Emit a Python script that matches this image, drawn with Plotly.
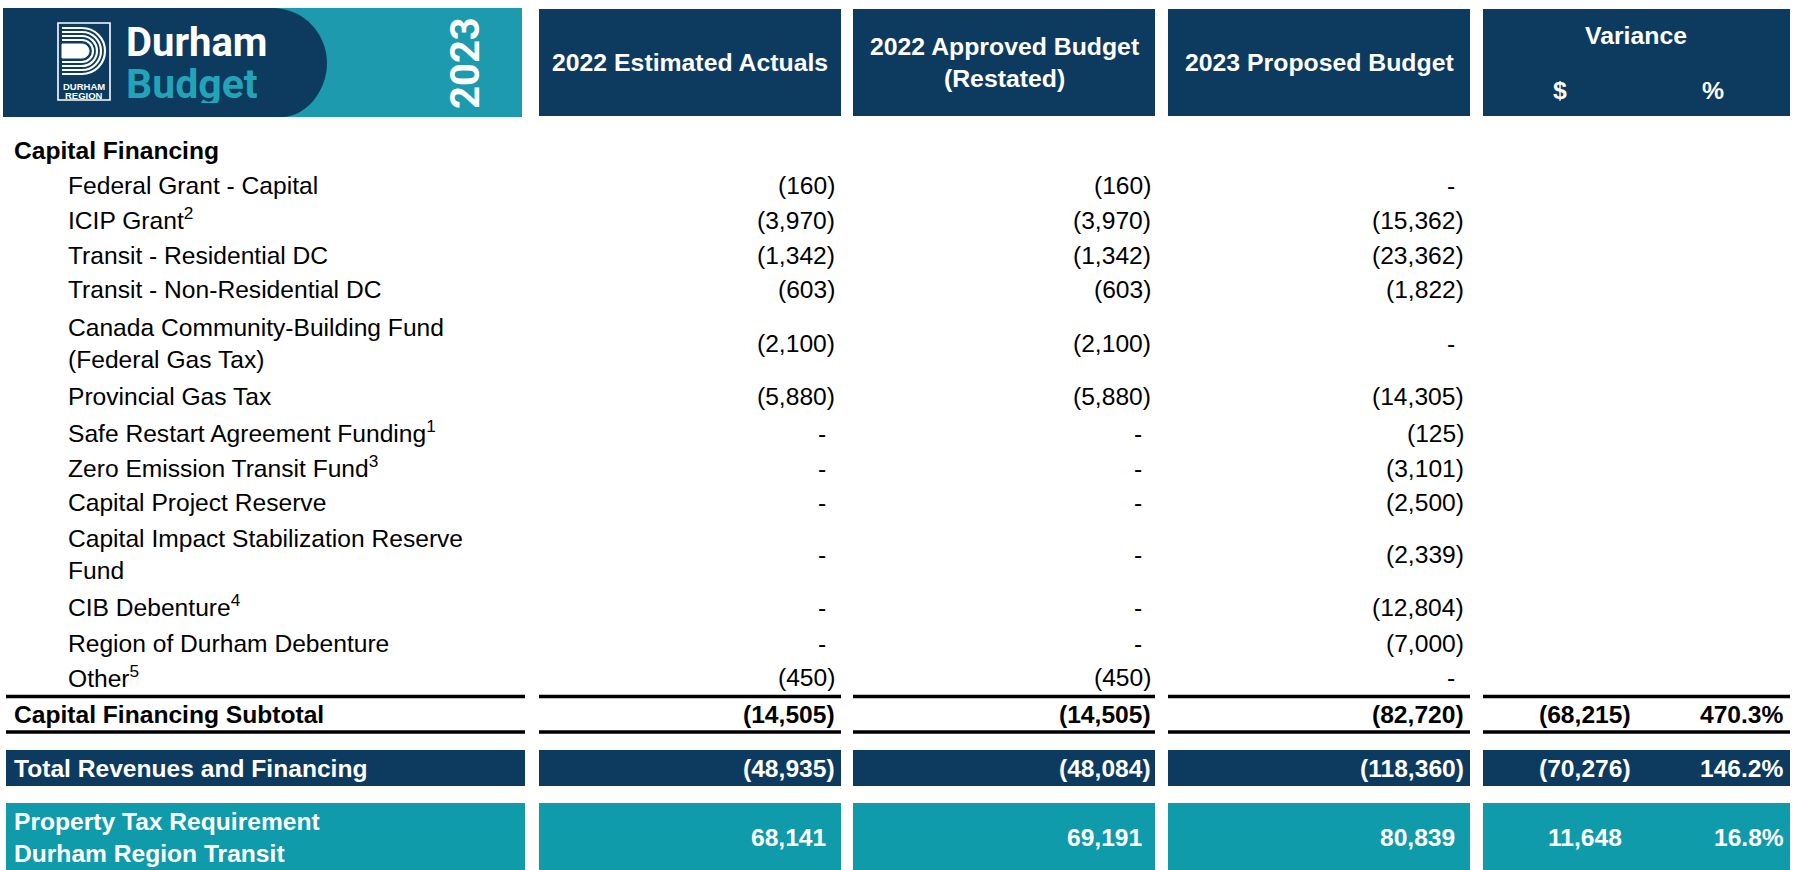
import plotly.graph_objects as go

# ---------------- data ----------------
header_cols = ["2022 Estimated Actuals", "2022 Approved Budget<br>(Restated)", "2023 Proposed Budget"]
variance_header = "Variance"
variance_sub = ["$", "%"]

section_title = "Capital Financing"
item_labels = [
    "Federal Grant - Capital",
    "ICIP Grant<sup>2</sup>",
    "Transit - Residential DC",
    "Transit - Non-Residential DC",
    "Canada Community-Building Fund<br>(Federal Gas Tax)",
    "Provincial Gas Tax",
    "Safe Restart Agreement Funding<sup>1</sup>",
    "Zero Emission Transit Fund<sup>3</sup>",
    "Capital Project Reserve",
    "Capital Impact Stabilization Reserve<br>Fund",
    "CIB Debenture<sup>4</sup>",
    "Region of Durham Debenture",
    "Other<sup>5</sup>",
]
est_actuals_2022 = [-160, -3970, -1342, -603, -2100, -5880, None, None, None, None, None, None, -450]
approved_2022 = [-160, -3970, -1342, -603, -2100, -5880, None, None, None, None, None, None, -450]
proposed_2023 = [None, -15362, -23362, -1822, None, -14305, -125, -3101, -2500, -2339, -12804, -7000, None]

summary_labels = ["Capital Financing Subtotal", "Total Revenues and Financing",
                  "Property Tax Requirement<br>Durham Region Transit"]
summary_est = [-14505, -48935, 68141]
summary_app = [-14505, -48084, 69191]
summary_prop = [-82720, -118360, 80839]
summary_var = [-68215, -70276, 11648]
summary_pct = [470.3, 146.2, 16.8]

# ---------------- styling / layout ----------------
W, H = 1799, 870
NAVY = "#0d3a5f"
TEAL = "#109bab"
BANNER_TEAL = "#1d9aae"
FONT = "Liberation Sans, Arial, sans-serif"
FS = 24.6
HFS = 24.8

col_x = [(3, 522), (539, 841), (853, 1155), (1168, 1470), (1483, 1790)]
val_right = [836.5, 1152.5, 1465.5, 1633, 1786]
item_y = [185, 220, 255, 289, 343.5, 396, 433, 468, 502, 554, 607, 643, 677.5]
summary_y = [714, 768, 837]
summary_band = [None, (750, 786), (803, 870)]
summary_color = ["black", "white", "white"]


def fmt(v, pct=False):
    if v is None:
        return "-"
    if pct:
        return f"{v:.1f}%"
    if v < 0:
        return f"({abs(v):,})"
    return f"{v:,}"


def right_edge(ci, v, pct=False):
    if pct:
        return val_right[ci]
    if v is None:
        return val_right[ci] - 8.5
    if v >= 0:
        return val_right[ci] - 9
    return val_right[ci]


fig = go.Figure()
fig.add_trace(go.Scatter(x=[0, W], y=[0, H], mode="markers", marker=dict(opacity=0), hoverinfo="skip"))

shapes = []
ann = []

# banner
shapes.append(dict(type="rect", x0=3, x1=522, y0=8, y1=117, fillcolor=BANNER_TEAL, line=dict(width=0), layer="below"))
shapes.append(dict(type="path", path="M3,8 H272 C305,8 327,35 327,63 C327,92 305,117 282,117 H3 Z",
                   fillcolor=NAVY, line=dict(width=0), layer="below"))
# logo box
shapes.append(dict(type="rect", x0=58, x1=110, y0=23, y1=100, line=dict(color="white", width=1.6)))
cx, cy = 82, 51
k = 0.5523
for r in [23, 19, 15, 11]:
    p = (f"M62,{cy-r} L{cx},{cy-r} C{cx+k*r},{cy-r} {cx+r},{cy-k*r} {cx+r},{cy} "
         f"C{cx+r},{cy+k*r} {cx+k*r},{cy+r} {cx},{cy+r} L62,{cy+r}")
    shapes.append(dict(type="path", path=p, line=dict(color="white", width=2.2)))
r = 7
p = (f"M62,{cy-r} L{cx},{cy-r} C{cx+k*r},{cy-r} {cx+r},{cy-k*r} {cx+r},{cy} "
     f"C{cx+r},{cy+k*r} {cx+k*r},{cy+r} {cx},{cy+r} L62,{cy+r} Z")
shapes.append(dict(type="path", path=p, fillcolor="white", line=dict(color="white", width=1)))
ann.append(dict(x=84, y=86, text="<b>DURHAM</b>", height=10, font=dict(family=FONT, size=9.5, color="white"), showarrow=False))
ann.append(dict(x=84, y=95, text="<b>REGION</b>", height=10, font=dict(family=FONT, size=9.5, color="white"), showarrow=False))
ann.append(dict(x=124, y=42, text="<b>Durham</b>", xanchor="left", height=38,
                font=dict(family="Roboto, " + FONT, size=40, color="white"), showarrow=False))
ann.append(dict(x=124, y=84, text="<b>Budget</b>", xanchor="left", height=38,
                font=dict(family="Roboto, " + FONT, size=41, color="#22a3b8"), showarrow=False))
ann.append(dict(x=465, y=63, text="<b>2023</b>", textangle=-90,
                font=dict(family="Roboto, " + FONT, size=40, color="white"), showarrow=False))

# header boxes
for i in range(1, 5):
    x0, x1 = col_x[i]
    shapes.append(dict(type="rect", x0=x0, x1=x1, y0=9, y1=116, fillcolor=NAVY, line=dict(width=0), layer="below"))
for i, t in enumerate(header_cols):
    x0, x1 = col_x[i + 1]
    ann.append(dict(x=(x0 + x1) / 2, y=62.5, text=f"<b>{t}</b>", font=dict(family=FONT, size=HFS, color="white"), showarrow=False))
ann.append(dict(x=1636, y=35, text=f"<b>{variance_header}</b>", font=dict(family=FONT, size=HFS, color="white"), showarrow=False))
ann.append(dict(x=1560, y=90, text=f"<b>{variance_sub[0]}</b>", font=dict(family=FONT, size=HFS, color="white"), showarrow=False))
ann.append(dict(x=1713, y=90, text=f"<b>{variance_sub[1]}</b>", font=dict(family=FONT, size=HFS, color="white"), showarrow=False))

# section title
ann.append(dict(x=12, y=150, text=f"<b>{section_title}</b>", xanchor="left", font=dict(family=FONT, size=FS, color="black"), showarrow=False))

# items
for lbl, y, a, b, c in zip(item_labels, item_y, est_actuals_2022, approved_2022, proposed_2023):
    ly = y - 1.5 if "<sup>" in lbl else y
    ann.append(dict(x=66, y=ly, text=lbl, xanchor="left", align="left", font=dict(family=FONT, size=FS, color="black"), showarrow=False))
    for ci, v in enumerate([a, b, c]):
        ann.append(dict(x=right_edge(ci, v), y=y, text=fmt(v), xanchor="right", font=dict(family=FONT, size=FS, color="black"), showarrow=False))

# subtotal rules
for (x0, x1) in [(6, 525)] + col_x[1:]:
    for yl in [696.5, 732]:
        shapes.append(dict(type="line", x0=x0, x1=x1, y0=yl, y1=yl, line=dict(color="black", width=3.5)))

# summary rows
for si, (lbl, y) in enumerate(zip(summary_labels, summary_y)):
    col = summary_color[si]
    if summary_band[si]:
        y0, y1 = summary_band[si]
        fill = NAVY if si == 1 else TEAL
        for (x0, x1) in [(6, 525)] + col_x[1:]:
            shapes.append(dict(type="rect", x0=x0, x1=x1, y0=y0, y1=y1, fillcolor=fill, line=dict(width=0), layer="below"))
    ann.append(dict(x=12, y=y, text=f"<b>{lbl}</b>", xanchor="left", align="left", font=dict(family=FONT, size=FS, color=col), showarrow=False))
    vals = [summary_est[si], summary_app[si], summary_prop[si], summary_var[si]]
    for ci, v in enumerate(vals):
        ann.append(dict(x=right_edge(ci, v), y=y, text=f"<b>{fmt(v)}</b>", xanchor="right", font=dict(family=FONT, size=FS, color=col), showarrow=False))
    ann.append(dict(x=val_right[4], y=y, text=f"<b>{fmt(summary_pct[si], pct=True)}</b>", xanchor="right", font=dict(family=FONT, size=FS, color=col), showarrow=False))

fig.update_layout(
    width=W, height=H,
    margin=dict(l=0, r=0, t=0, b=0),
    paper_bgcolor="white", plot_bgcolor="white",
    xaxis=dict(range=[0, W], visible=False, fixedrange=True),
    yaxis=dict(range=[H, 0], visible=False, fixedrange=True),
    shapes=shapes, annotations=ann, showlegend=False,
)
fig.write_html("out.html", config={"displayModeBar": False},
               post_script="document.body.style.margin='0';document.body.style.overflow='hidden';")
